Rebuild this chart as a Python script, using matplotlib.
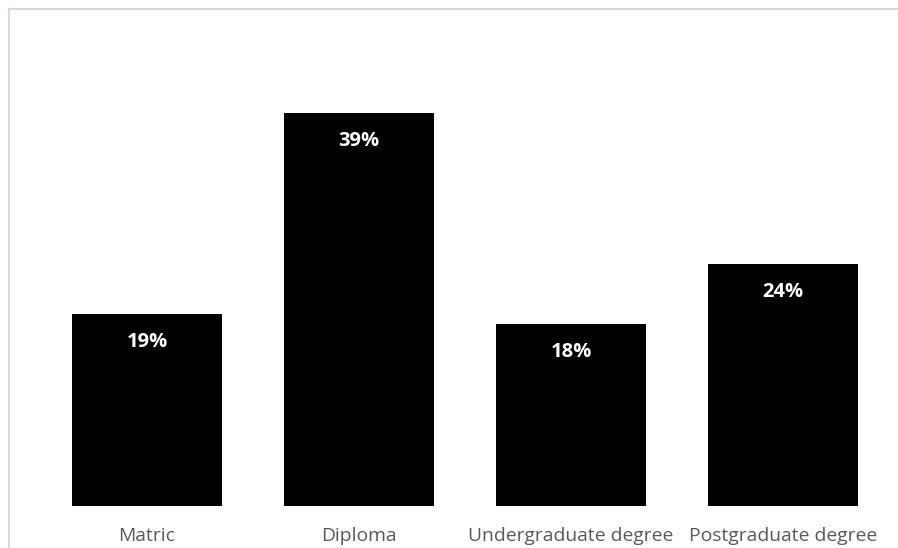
import matplotlib
matplotlib.use("Agg")
import matplotlib.pyplot as plt
from matplotlib.lines import Line2D

categories = ["Matric", "Diploma", "Undergraduate degree", "Postgraduate degree"]
shares = [19, 39, 18, 24]
labels = [f"{v}%" for v in shares]

W, H = 898, 548
fig = plt.figure(figsize=(W / 100, H / 100), dpi=100)
fig.patch.set_facecolor("white")

# chart frame (left and top edges)
fig.add_artist(Line2D([8.5 / W, 8.5 / W], [0, 1 - 8.5 / H], transform=fig.transFigure,
                      color="#d9d9d9", lw=1.5))
fig.add_artist(Line2D([8.5 / W, 1], [1 - 8.5 / H, 1 - 8.5 / H], transform=fig.transFigure,
                      color="#d9d9d9", lw=1.5))

left, right = 41, 889
bottom, top = 506, 52
ax = fig.add_axes([left / W, 1 - bottom / H, (right - left) / W, (bottom - top) / H])
x = range(len(categories))
bars = ax.bar(x, shares, width=0.708, color="black")
ax.set_xlim(-0.5, len(categories) - 0.5)
ax.set_ylim(0, 45)

for rect, lab in zip(bars, labels):
    ax.annotate(lab, (rect.get_x() + rect.get_width() / 2, rect.get_height()),
                xytext=(0, -28), textcoords="offset pixels", ha="center", va="center",
                color="white", fontsize=14.5, fontweight="bold", family="Open Sans")

ax.set_xticks(list(x))
ax.set_xticklabels(categories, fontsize=13.9, color="#595959", family="Open Sans")
ax.tick_params(axis="x", length=0, pad=15)
ax.set_yticks([])
for s in ax.spines.values():
    s.set_visible(False)

fig.savefig("out.png", dpi=100)
